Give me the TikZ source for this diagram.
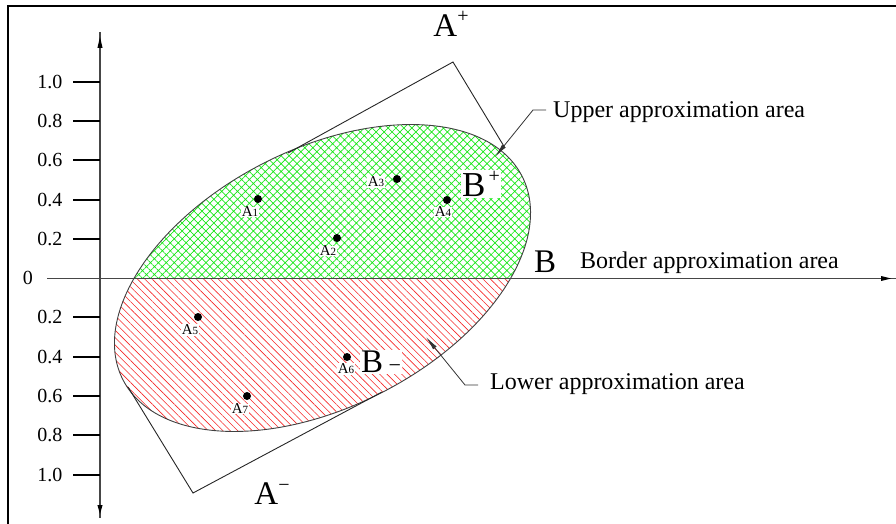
\documentclass[tikz,border=0pt]{standalone}
\usepackage{fontspec}
\setmainfont{Liberation Serif}
\usetikzlibrary{patterns.meta,arrows.meta}
\definecolor{hatchgreen}{RGB}{25,230,25}
\definecolor{hatchred}{RGB}{245,40,40}
\definecolor{axisgray}{RGB}{70,70,70}
\begin{document}
\begin{tikzpicture}[x=1pt,y=-1pt,
  ticklab/.style={anchor=east,inner sep=0pt,font=\fontsize{20}{20}\selectfont},
  areatext/.style={anchor=west,inner sep=0pt,font=\fontsize{24}{24}\selectfont},
  biglab/.style={inner sep=1pt,font=\fontsize{33}{33}\selectfont},
  dot/.style={circle,fill=black,inner sep=0pt,minimum size=8pt},
  plab/.style={inner sep=0.5pt,fill=white,font=\fontsize{15}{15}\selectfont},
  leader/.style={draw=black!80,line width=0.8pt,-{Latex[length=14pt,width=4.5pt]}},
  rectline/.style={draw=black!85,line width=0.9pt},
  axis/.style={draw=axisgray,line width=1.4pt},
  tick/.style={draw=black,line width=1.3pt}]
\useasboundingbox (0,0) rectangle (896,524);
% frame
\draw[line width=2.3pt] (7.8,530) -- (7.8,6.2) -- (900,6.2);
% ellipse
\coordinate (C) at (322.5,278);
\begin{scope}
  \clip (0,0) rectangle (896,278);
  \path[rotate around={27:(C)},pattern={Hatch[angle=45,distance=5.6pt,line width=0.7pt]},pattern color=hatchgreen]
    (C) ellipse [x radius=224,y radius=129];
\end{scope}
\begin{scope}
  \clip (0,278) rectangle (896,524);
  \path[rotate around={27:(C)},pattern={Lines[angle=-45,distance=5.2pt,line width=0.6pt]},pattern color=hatchred]
    (C) ellipse [x radius=224,y radius=129];
\end{scope}
\draw[rotate around={27:(C)},draw=black!75,line width=0.9pt] (C) ellipse [x radius=224,y radius=129];
% rectangle parts
\coordinate (Ap) at (453,62);
\coordinate (Am) at (193,493);
\draw[rectline] (288,153) -- (Ap) -- (505,148);
\draw[rectline] (128,387) -- (Am) -- (382,392);
% axes
\coordinate (yt) at (100,32);
\coordinate (yb) at (100,518);
\coordinate (xl) at (47,278.5);
\coordinate (xr) at (896,278.5);
\draw[axis] (yt) -- (yb);
\draw[axis] (xl) -- (xr);
\fill[black] (100,37) -- (102.6,48) -- (97.4,48) -- cycle;
\fill[black] (100,514) -- (102.6,505) -- (97.4,505) -- cycle;
\fill[black] (891,278.5) -- (881,276) -- (881,281) -- cycle;
% ticks
\foreach \y/\t in {82/1.0,121/0.8,160/0.6,200/0.4,239/0.2,317/0.2,357/0.4,396/0.6,435/0.8,475/1.0}{
  \draw[tick] (73,\y) -- (100,\y);
  \node[ticklab] at (62.5,\y) {\t};
}
\node[ticklab] at (33,278) {0};
% points
\node[dot] (p1) at (258,199) {};
\node[dot] (p2) at (337,238) {};
\node[dot] (p3) at (397,179) {};
\node[dot] (p4) at (447,200) {};
\node[dot] (p5) at (198,317) {};
\node[dot] (p6) at (347,357) {};
\node[dot] (p7) at (247,396) {};
\newcommand{\sdig}[1]{{\fontsize{11}{11}\selectfont #1}}
\node[plab] at (250,212) {A\sdig{1}};
\node[plab] at (328,251) {A\sdig{2}};
\node[plab] at (376,182) {A\sdig{3}};
\node[plab] at (443,212) {A\sdig{4}};
\node[plab] at (190,330) {A\sdig{5}};
\node[plab] at (346,369) {A\sdig{6}};
\node[plab] at (240,409) {A\sdig{7}};
% big labels
\node[biglab] (aplus) at (451,24) {A\raisebox{0.42em}{\fontsize{20}{20}\selectfont +}};
\node[biglab] (aminus) at (272,494) {A\raisebox{0.42em}{\fontsize{20}{20}\selectfont −}};
\node[biglab,fill=white,font=\fontsize{35}{35}\selectfont] (bplus) at (481,184) {B\raisebox{0.42em}{\fontsize{20}{20}\selectfont\,+}};
\node[biglab,fill=white] (bminus) at (381,362) {B\,{\fontsize{22}{22}\selectfont −}};
\node[biglab] (bb) at (545,262) {B};
% area texts
\node[areatext] (upT) at (553,112) {Upper approximation area};
\node[areatext] (boT) at (580,263) {Border approximation area};
\node[areatext] (loT) at (490,384) {Lower approximation area};
% leaders
\coordinate (tipU) at (495,157);
\coordinate (tipL) at (426,337);
\draw[leader] (546,110) -- (533,110) -- (tipU);
\draw[leader] (478,385) -- (465,385) -- (tipL);
\end{tikzpicture}
\end{document}
